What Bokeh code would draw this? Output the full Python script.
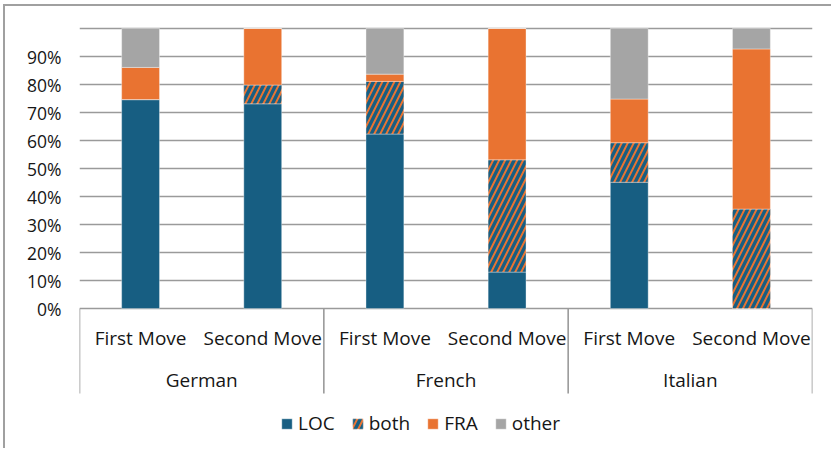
import numpy as np
from bokeh.plotting import figure
from bokeh.models import ColumnDataSource, Range1d, FixedTicker
from bokeh.core.properties import value
from bokeh.embed import file_html
from bokeh.resources import INLINE

# ---- data ----
groups = ["German", "French", "Italian"]
moves = ["First Move", "Second Move"]
series = ["LOC", "both", "FRA", "other"]
loc = [74.6, 73.1, 62.3, 13.0, 45.1, 0.0]
both = [0.0, 6.7, 18.8, 40.1, 14.1, 35.5]
fra = [11.5, 20.2, 2.6, 46.9, 15.6, 57.2]
other = [13.9, 0.0, 16.3, 0.0, 25.2, 7.3]
tick_values = [0, 10, 20, 30, 40, 50, 60, 70, 80, 90]
tick_labels = ["0%", "10%", "20%", "30%", "40%", "50%", "60%", "70%", "80%", "90%"]
grid_values = [0, 10, 20, 30, 40, 50, 60, 70, 80, 90, 100]

# ---- style ----
BLUE = "#175E82"
ORANGE = "#E97331"
GREY = "#A5A5A5"
LINE = "#9a9a9a"
TXT = "#161616"
FONT = "Open Sans"

n = len(groups) * len(moves)
xpos = np.arange(n) + 0.5
bar_labels = [m for g in groups for m in moves]
group_x = np.arange(len(groups)) * len(moves) + len(moves) / 2
sep_x = np.arange(len(groups) + 1) * len(moves)

source = ColumnDataSource(dict(x=xpos, LOC=loc, both=both, FRA=fra, other=other))

PX = 2.8  # pixels per percent
y_top = 100 + 2 / PX
y_bot = y_top - 424 / PX

p = figure(width=828, height=444, margin=(4, 0, 0, 3),
           x_range=Range1d(0, n), y_range=Range1d(y_bot, y_top),
           x_axis_location=None, toolbar_location=None, output_backend="svg",
           min_border_left=74, min_border_right=21, min_border_top=20, min_border_bottom=0)
p.styles = {"border-left": "2px solid #a0a0a0", "border-top": "2px solid #a0a0a0"}
p.outline_line_color = None
p.background_fill_color = "white"
p.border_fill_color = "white"

p.xgrid.visible = False
p.ygrid.ticker = FixedTicker(ticks=grid_values)
p.ygrid.grid_line_color = LINE
p.ygrid.grid_line_width = 1.6

ax = p.yaxis[0]
ax.ticker = FixedTicker(ticks=tick_values)
ax.major_label_overrides = {v: l for v, l in zip(tick_values, tick_labels)}
ax.axis_line_color = None
ax.major_tick_line_color = None
ax.minor_tick_line_color = None
ax.major_tick_in = 0
ax.major_tick_out = 0
ax.major_label_standoff = 18
ax.major_label_text_font = FONT
ax.major_label_text_font_size = "17.5px"
ax.major_label_text_color = TXT

p.vbar_stack(series, x="x", width=0.31, source=source,
             fill_color=[BLUE, ORANGE, ORANGE, GREY],
             line_color="white", line_width=0.6, line_alpha=0.6,
             hatch_pattern=[" ", "/", " ", " "],
             hatch_color=[BLUE, BLUE, BLUE, BLUE],
             hatch_scale=12, hatch_weight=3.4,
             legend_label=series)

# category axis drawn inside the extended frame
sep_len = 30.4
p.segment(x0=sep_x, y0=np.zeros_like(sep_x), x1=sep_x, y1=np.full(len(sep_x), -sep_len),
          line_color=LINE, line_width=1.6)
p.text(x=xpos, y=np.full(n, -10.4), text=bar_labels, text_align="center",
       text_baseline="middle", text_font=value(FONT), text_font_size="19px", text_color=TXT)
p.text(x=group_x, y=np.full(len(groups), -25.7), text=groups, text_align="center",
       text_baseline="middle", text_font=value(FONT), text_font_size="19px", text_color=TXT)

lg = p.legend[0]
lg.orientation = "horizontal"
lg.location = (201, 14)
lg.border_line_color = None
lg.background_fill_alpha = 0
lg.padding = 0
lg.margin = 0
lg.glyph_width = 13
lg.glyph_height = 13
lg.label_standoff = 5
lg.spacing = 16
lg.label_text_font = FONT
lg.label_text_font_size = "19px"
lg.label_text_color = TXT
lg.label_height = 13

open("out.html", "w").write(file_html(p, INLINE))
